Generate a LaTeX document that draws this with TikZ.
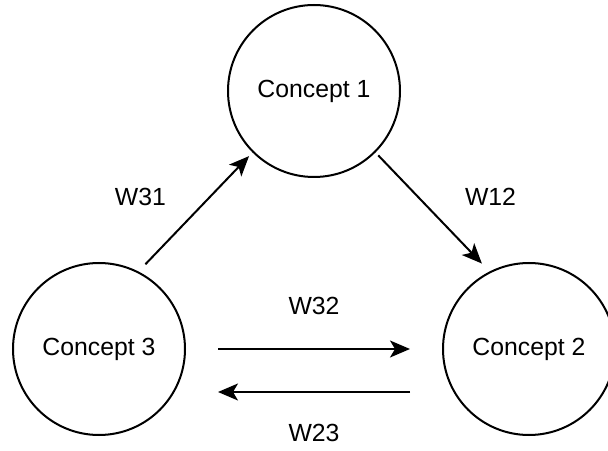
\documentclass[tikz,border=0pt]{standalone}
\usepackage{fontspec}
\setmainfont{Liberation Sans}
\usetikzlibrary{arrows.meta}
\tikzstyle{concept} = [circle,draw,line width=2pt,minimum size=172pt,inner sep=0pt,font=\fontsize{24.8}{30}\selectfont]
\tikzstyle{arrow} = [line width=2pt,-{Stealth[length=20pt,width=17pt,inset=5pt]}]
\tikzstyle{weight} = [font=\fontsize{24.8}{30}\selectfont]

\begin{document}
\begin{tikzpicture}[x=1pt,y=1pt]
	\useasboundingbox (0,0) rectangle (608,450);
	\node[concept] (c1) at (314,359) {Concept 1};
	\node[concept] (c2) at (529,101) {Concept 2};
	\node[concept] (c3) at (99,101) {Concept 3};
	\draw[arrow,shorten <=10pt,shorten >=5pt] (c3.63) -- (c1.225) node [weight,midway,xshift=-55pt,yshift=15pt] {W31};
	\draw[arrow,shorten <=4pt,shorten >=11pt] (c1.-45) -- (c2.117) node [weight,midway,xshift=58pt,yshift=15pt] {W12};
	\draw[arrow,shorten <=32pt,shorten >=32pt] (c3.east) -- (c2.west) node [weight,midway,above=30pt] {W32};
	\draw[arrow,shorten <=32pt,shorten >=32pt] ([yshift=-43pt]c2.west) -- ([yshift=-43pt]c3.east) node [weight,midway,below=28pt] {W23};
\end{tikzpicture}
\end{document}
